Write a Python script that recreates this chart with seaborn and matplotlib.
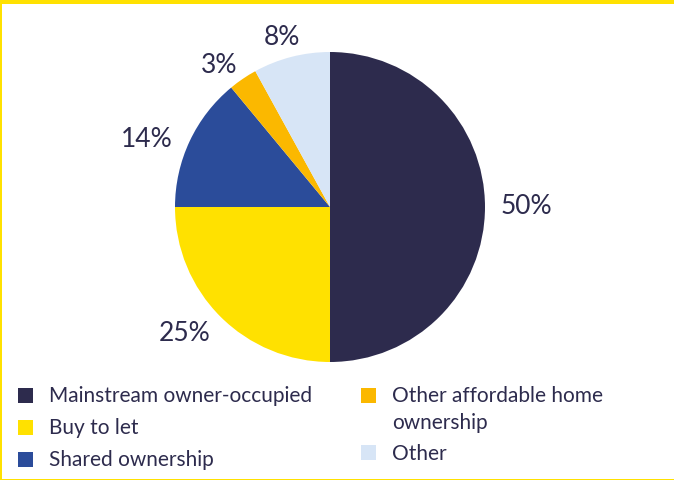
import matplotlib
matplotlib.use("Agg")
import numpy as np
import matplotlib.pyplot as plt
from matplotlib.patches import Rectangle
import seaborn as sns

# Tenure breakdown (percent of total)
categories = ["Mainstream owner-occupied", "Buy to let", "Shared ownership",
              "Other affordable home\nownership", "Other"]
shares = [50, 25, 14, 3, 8]
palette = ["#2d2b4d", "#ffe100", "#2b4c9a", "#fbb800", "#d7e5f6"]

sns.set_theme(style="white")
plt.rcParams["font.family"] = ["Lato", "DejaVu Sans"]
text_color = "#2d2b4d"

W, H = 674, 480
fig = plt.figure(figsize=(W / 100, H / 100), dpi=100)
fig.patch.set_facecolor("white")

# pie centred at (330, 207) px with radius 155 px
cx, cy, r = 330, 207, 155
ax = fig.add_axes([(cx - r) / W, (H - cy - r) / H, 2 * r / W, 2 * r / H])
colors = sns.color_palette(palette)
wedges, texts = ax.pie(
    shares,
    colors=colors,
    startangle=90,
    counterclock=False,
    labels=[f"{v}%" for v in shares],
    wedgeprops=dict(linewidth=0),
    textprops=dict(color=text_color, fontsize=19),
)
# percentage labels sit just outside each wedge's mid-angle
label_dist = [1.27, 1.245, 1.26, 1.16, 1.14]
label_turn = [0, -4, 5, 4, 1.5]
for w, t, d, dt in zip(wedges, texts, label_dist, label_turn):
    theta = np.deg2rad((w.theta1 + w.theta2) / 2 + dt)
    t.set_position((d * np.cos(theta), d * np.sin(theta)))
    t.set_ha("center")
    t.set_va("center")
ax.set_xlim(-1, 1)
ax.set_ylim(-1, 1)
ax.set_aspect("equal")
ax.axis("off")

# legend: two columns of square swatches with labels
legend_slots = [(18, 395), (18, 427), (18, 459), (361, 395), (361, 452)]
sw = 15
for (x, y), c, lab in zip(legend_slots, colors, categories):
    fig.patches.append(Rectangle((x / W, 1 - (y + sw / 2) / H), sw / W, sw / H,
                                 transform=fig.transFigure, facecolor=c,
                                 edgecolor="none"))
    fig.text((x + 31) / W, 1 - (y - 8.5) / H, lab, ha="left", va="top",
             fontsize=15, color=text_color, linespacing=1.4)

# yellow frame: heavy top rule, thinner left and bottom rules
yellow = "#ffe100"
fig.patches.append(Rectangle((0, 1 - 3.5 / H), 1, 3.5 / H, transform=fig.transFigure,
                             facecolor=yellow, edgecolor="none"))
fig.patches.append(Rectangle((0, 0), 2 / W, 1, transform=fig.transFigure,
                             facecolor=yellow, edgecolor="none"))
fig.patches.append(Rectangle((0, 0), 1, 1.5 / H, transform=fig.transFigure,
                             facecolor=yellow, edgecolor="none"))

fig.savefig("out.png", dpi=100, facecolor="white")
